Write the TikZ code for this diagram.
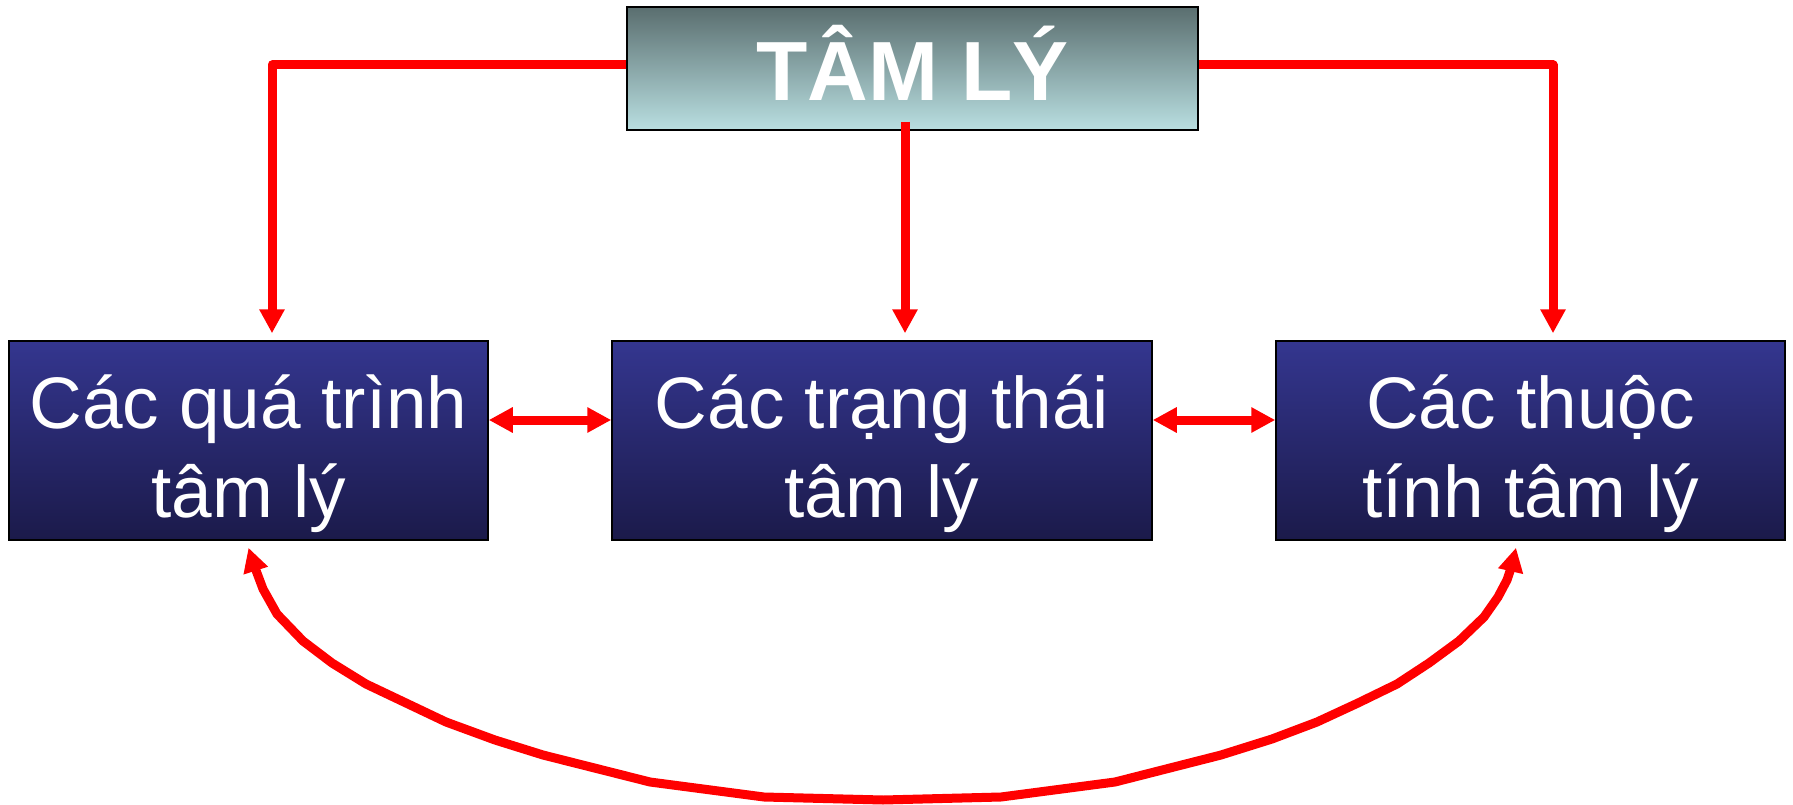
\documentclass[tikz,border=0pt]{standalone}
\usepackage{fontspec}
\setmainfont{Liberation Sans}
\usetikzlibrary{arrows.meta}
\definecolor{topA}{HTML}{5A6E6F}
\definecolor{topB}{HTML}{B9DFE1}
\definecolor{boxA}{HTML}{34368F}
\definecolor{boxB}{HTML}{1B1A4A}
\definecolor{conn}{HTML}{FF0000}
\tikzset{
  headbox/.style={draw=black, line width=1.5pt, top color=topA, bottom color=topB,
    minimum width=571pt, minimum height=123pt, inner sep=0pt, text=white,
    font=\fontsize{84}{96}\selectfont\bfseries, text height=64pt, text depth=0pt},
  itembox/.style={draw=black, line width=1.5pt, top color=boxA, bottom color=boxB,
    minimum height=199pt, inner sep=0pt, text=white, align=center,
    font=\fontsize{73}{89}\selectfont, text height=173pt, text depth=20pt},
  link/.style={draw=conn, line width=9pt, line join=round,
    -{Triangle[length=24pt,width=24pt]}},
  dlink/.style={draw=conn, line width=9pt, line join=round,
    {Triangle[length=24pt,width=24pt]}-{Triangle[length=24pt,width=24pt]}}
}
\begin{document}
\begin{tikzpicture}[x=1pt,y=-1pt]
\useasboundingbox (0,0) rectangle (1793,805);
\node[headbox] (top) at (912.5,68.5) {TÂM LÝ};
\node[itembox, minimum width=479pt] (qt) at (248.5,440.5) {Các quá trình\\tâm lý};
\node[itembox, minimum width=540pt] (tt) at (882,440.5) {Các trạng thái\\tâm lý};
\node[itembox, minimum width=509pt] (tl) at (1530.5,440.5) {Các thuộc\\tính tâm lý};
% top connectors
\draw[link] ([yshift=3.5pt]top.west) -| ([xshift=23.5pt,yshift=7pt]qt.north);
\draw[link] ([xshift=-7.5pt,yshift=9pt]top.south) -- ([xshift=23pt,yshift=7pt]tt.north);
\draw[link] ([yshift=3.5pt]top.east) -| ([xshift=22.5pt,yshift=7pt]tl.north);
% horizontal double arrows
\draw[dlink] ([yshift=20.5pt]qt.east) -- ([yshift=20.5pt]tt.west);
\draw[dlink] ([yshift=20.5pt]tt.east) -- ([yshift=20.5pt]tl.west);
% bottom curve
\draw[dlink] ([yshift=-7pt]qt.south) -- (254,565) -- (263,589) -- (277,614) -- (303,641)
  -- (332,663) -- (366,684) -- (406,703) -- (446,722) -- (495,740) -- (543,755)
  -- (650,782) -- (764,797) -- (883,800) -- (1001,797) -- (1115,782) -- (1221,755)
  -- (1272,739) -- (1317,722) -- (1358,703) -- (1397,684) -- (1429,663) -- (1459,641)
  -- (1484,617) -- (1498,597) -- (1507,580) -- (1512,565) -- ([xshift=-14.5pt,yshift=-7pt]tl.south);
\end{tikzpicture}
\end{document}
